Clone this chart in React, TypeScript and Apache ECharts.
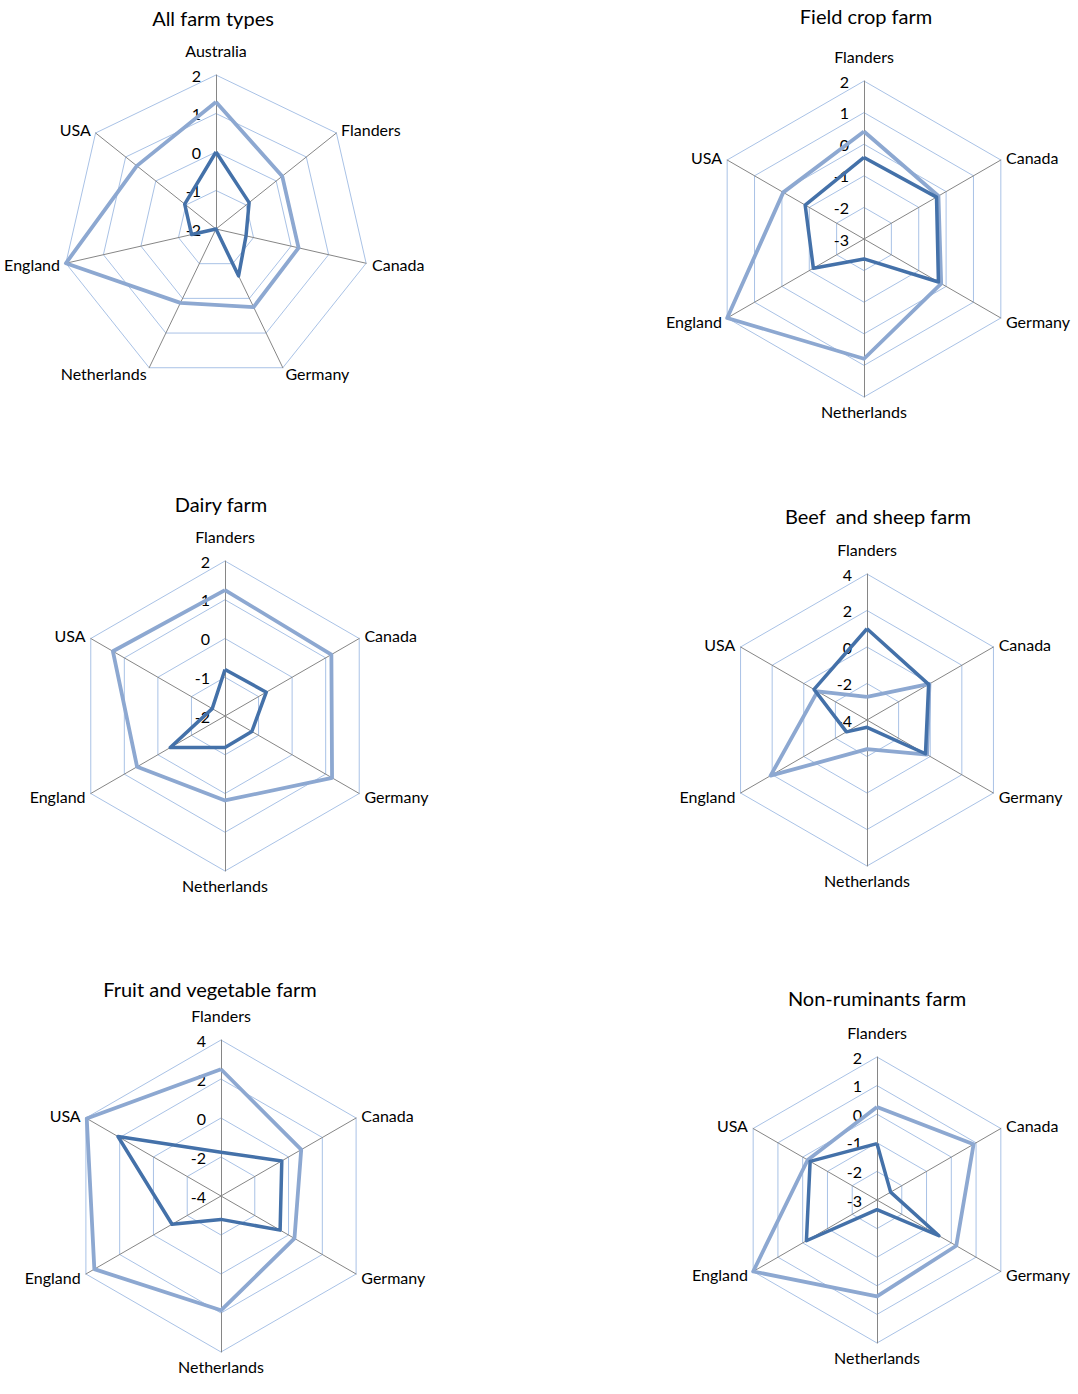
import React, { useEffect, useRef } from "react";
import * as echarts from "echarts";

// categories in clockwise order starting from the top
const cats7 = ["Australia", "Flanders", "Canada", "Germany", "Netherlands", "England", "USA"];
const cats6 = ["Flanders", "Canada", "Germany", "Netherlands", "England", "USA"];

const allLight = [1.3, 0.2, 0.2, 0.25, 0.13, 2.0, 0.63];
const allDark = [0.0, -0.9, -1.2, -0.65, -2.0, -1.35, -0.96];

const fieldLight = [0.4, -0.28, -0.18, 0.79, 2.0, -0.05];
const fieldDark = [-0.42, -0.35, -0.28, -2.37, -1.15, -0.85];

const dairyLight = [1.25, 1.17, 1.19, 0.18, 0.62, 1.34];
const dairyDark = [-0.8, -0.77, -1.2, -1.19, -0.37, -1.62];

const beefLight = [-2.73, -0.05, -0.2, -2.4, 2.1, -0.87];
const beefDark = [1.0, -0.1, -0.3, -3.6, -2.7, -0.65];

const fruitLight = [2.5, 0.75, 0.35, 1.86, 3.5, 3.95];
const fruitDark = [-1.76, -0.4, -0.5, -2.8, -1.1, 2.1];

const nonrumLight = [0.25, 0.9, 0.2, 0.37, 2.0, -0.2];
const nonrumDark = [-1.03, -2.45, -0.5, -2.66, -0.15, -0.3];

const titles = [
  "All farm types",
  "Field crop farm",
  "Dairy farm",
  "Beef  and sheep farm",
  "Fruit and vegetable farm",
  "Non-ruminants farm",
];

// axis ranges: [min, max, splitNumber]
const ranges = [
  [-2, 2, 4],
  [-3, 2, 5],
  [-2, 2, 4],
  [-4, 4, 4],
  [-4, 4, 4],
  [-3, 2, 5],
];

const FONT = "Lato, 'Liberation Sans', sans-serif";
const DARK = "#4471A9";
const LIGHT = "#8DA8D1";

// ECharts radar runs counter-clockwise; reorder so the picture runs clockwise
function cw<T>(arr: T[]): T[] {
  return [arr[0], ...arr.slice(1).reverse()];
}

export default function App() {
  const ref = useRef<HTMLDivElement>(null);
  useEffect(() => {
    document.body.style.margin = "0";
    if (!ref.current) return;
    const chart = echarts.init(ref.current, undefined, { renderer: "svg" });

    const charts = [
      { cats: cats7, light: allLight, dark: allDark },
      { cats: cats6, light: fieldLight, dark: fieldDark },
      { cats: cats6, light: dairyLight, dark: dairyDark },
      { cats: cats6, light: beefLight, dark: beefDark },
      { cats: cats6, light: fruitLight, dark: fruitDark },
      { cats: cats6, light: nonrumLight, dark: nonrumDark },
    ];
    const layout = [
      { c: [216, 229], r: 154, t: [213, 18] },
      { c: [864, 239], r: 158, t: [866, 16] },
      { c: [225, 716], r: 155, t: [221, 504] },
      { c: [867, 720], r: 146, t: [878, 516] },
      { c: [221, 1196], r: 156, t: [210, 989] },
      { c: [877, 1200], r: 143, t: [877, 998] },
    ];

    const radar = charts.map((ch, i) => ({
      center: layout[i].c,
      radius: layout[i].r,
      startAngle: 90,
      shape: "polygon",
      splitNumber: ranges[i][2],
      indicator: cw(ch.cats).map((name, k) =>
        k === 0
          ? { name, min: ranges[i][0], max: ranges[i][1], nameGap: 17, axisLabel: { show: true } }
          : { name, min: ranges[i][0], max: ranges[i][1] }
      ),
      axisName: { color: "#000", fontSize: 16, fontFamily: FONT },
      nameGap: 6,
      axisLine: { lineStyle: { color: "#868686", width: 1 } },
      splitLine: { lineStyle: { color: "#A9C2E6", width: 1 } },
      splitArea: { show: false },
      axisTick: { show: false },
      axisLabel: { show: false, color: "#000", fontSize: 16, fontFamily: FONT, margin: 15 },
    }));

    const series = charts.map((ch, i) => ({
      type: "radar",
      radarIndex: i,
      symbol: "none",
      silent: true,
      data: [
        { value: cw(ch.light), name: titles[i] + " (light)", lineStyle: { color: LIGHT, width: 3.8 } },
        { value: cw(ch.dark), name: titles[i] + " (dark)", lineStyle: { color: DARK, width: 3.5 } },
      ],
    }));

    const graphic = titles.map((t, i) => ({
      type: "text",
      x: layout[i].t[0],
      y: layout[i].t[1],
      style: {
        text: t,
        fill: "#000",
        font: `20px ${FONT}`,
        textAlign: "center",
        textVerticalAlign: "middle",
      },
    }));

    chart.setOption({
      animation: false,
      backgroundColor: "#fff",
      radar,
      series,
      graphic,
    });
    return () => chart.dispose();
  }, []);
  return <div ref={ref} style={{ width: 1078, height: 1394 }} />;
}
